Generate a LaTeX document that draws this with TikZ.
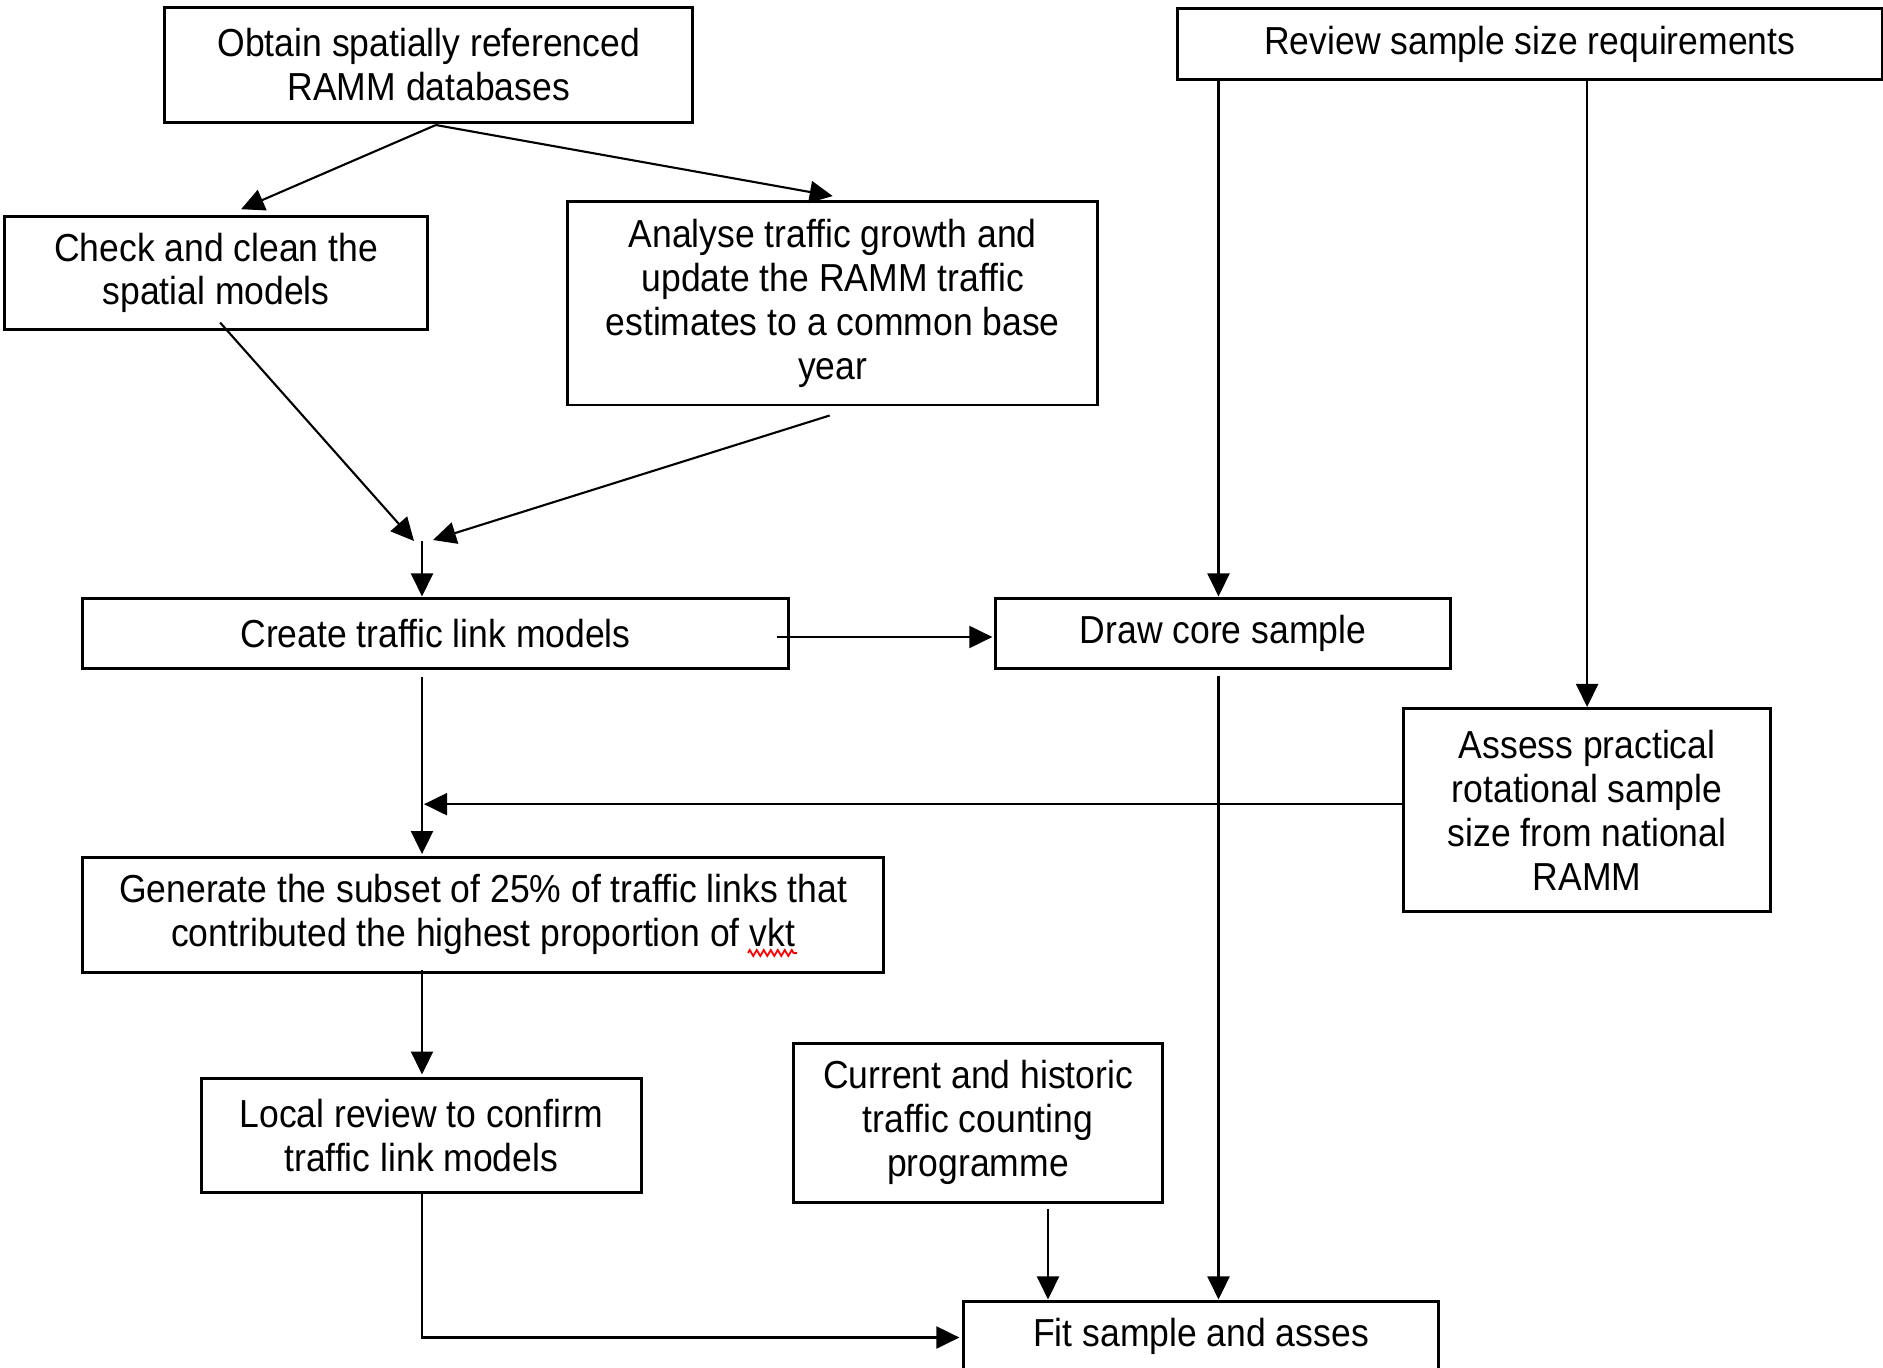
\documentclass[tikz,border=0pt]{standalone}
\usepackage{fontspec}
\setmainfont{Liberation Sans}[FakeStretch=0.91]
\usetikzlibrary{arrows.meta,calc,decorations.pathmorphing}
\begin{document}
\begin{tikzpicture}[x={(0.01cm,0)}, y={(0,-0.01cm)},
  box/.style={draw, line width=0.85pt, inner sep=0pt, align=center,
              font=\fontsize{11.1}{12.5}\selectfont},
  link/.style={line width=0.6pt, -{Triangle[length=0.23cm,width=0.22cm]}},
  squiggle/.style={red, line width=0.5pt, decorate,
                   decoration={zigzag, segment length=0.07cm, amplitude=0.03cm}}]
\useasboundingbox (0,0) rectangle (1883,1368);
\clip (0,0) rectangle (1883,1368);

% process boxes
\node[box, minimum width=5.28cm, minimum height=1.15cm] (obtain) at (428.8,65)
  {Obtain spatially referenced\\RAMM databases};
\node[box, minimum width=7.04cm, minimum height=0.705cm] (review) at (1529.8,44.2)
  {Review sample size requirements};
\node[box, minimum width=4.23cm, minimum height=1.123cm] (check) at (216.1,272.9)
  {Check and clean the\\spatial models};
\node[box, minimum width=5.295cm, minimum height=2.033cm] (analyse) at (832.7,303.3)
  {Analyse traffic growth and\\update the RAMM traffic\\estimates to a common base\\year};
\node[box, minimum width=7.05cm, minimum height=0.69cm] (create) at (435.5,633.5)
  {Create traffic link models};
\node[box, minimum width=4.54cm, minimum height=0.69cm] (core) at (1223,633.5)
  {Draw core sample};
\node[box, minimum width=3.674cm, minimum height=2.033cm] (assess) at (1587.1,810.2)
  {Assess practical\\rotational sample\\size from national\\RAMM};
\node[box, minimum width=8.0cm, minimum height=1.144cm] (subset) at (483.2,914.8)
  {Generate the subset of 25\% of traffic links that\\contributed the highest proportion of vkt};
\node[box, minimum width=4.395cm, minimum height=1.145cm] (local) at (421.3,1135.3)
  {Local review to confirm\\traffic link models};
\node[box, minimum width=3.68cm, minimum height=1.585cm] (counts) at (978,1122.8)
  {Current and historic\\traffic counting\\programme};
\node[box, minimum width=4.74cm, minimum height=0.69cm] (fit) at (1201,1336.5)
  {Fit sample and asses};

% spell-check mark under "vkt"
\draw[squiggle] (748,953) -- (797,953);

% shared columns
\coordinate (merge) at (422,541);
\coordinate (colA) at (1218.5,0);

% connectors
\draw[link] ($(obtain.south)+(7,1)$) -- ($(check.north)+(25,-6)$);
\draw[link] ($(obtain.south)+(7,1)$) -- ($(analyse.north)+(0,-4)$);
\draw[link] ($(check.south)+(4,-8)$) -- ($(merge)+(-8,0)$);
\draw[link] ($(analyse.south)+(-3,9)$) -- ($(merge)+(11,-1)$);
\draw[link] (merge) -- ($(merge |- create.north)+(0,-1)$);
\draw[link] ($(create.east)+(-13,3.5)$) -- ($(core.west)+(-2,3.5)$);
\draw[link] (colA |- review.south) -- ($(colA |- core.north)+(0,-1)$);
\draw[link] (review.south -| assess.north) -- (assess.north);
\draw[link] ($(merge |- create.south)+(0,7)$) -- ($(merge |- subset.north)+(0,-2)$);
\draw[link] ($(assess.west)+(0,-6)$) -- ($(merge |- assess.west)+(2,-6)$);
\draw[link] ($(colA |- core.south)+(0,6)$) -- ($(colA |- fit.north)+(0,-1)$);
\draw[link] ($(merge |- subset.south)+(0,-4)$) -- ($(merge |- local.north)+(0,-2)$);
\draw[link] ($(counts.south)+(70,5)$) -- ($(counts.south |- fit.north)+(70,-1)$);
\draw[link] (merge |- local.south) |- ($(fit.west)+(-3,1)$);
\end{tikzpicture}
\end{document}
